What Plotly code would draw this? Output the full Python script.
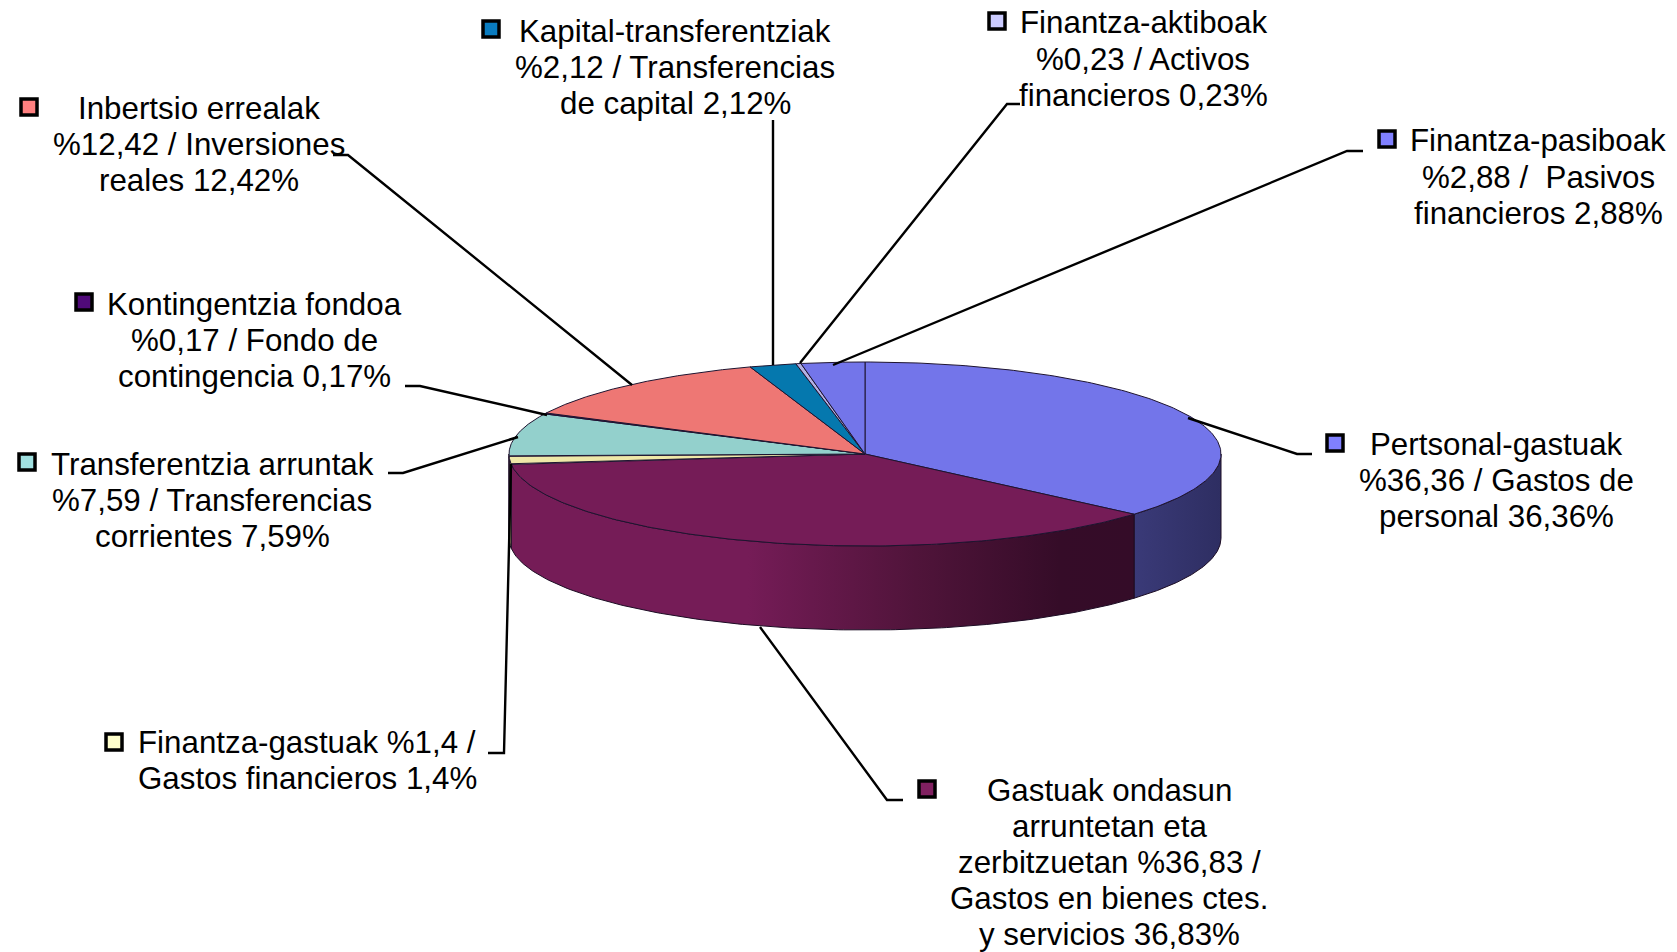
import numpy as np
import plotly.graph_objects as go

# ---- data (clockwise from 12 o'clock) ----
categories = ["Pertsonal-gastuak", "Gastuak ondasun", "Finantza-gastuak", "Transferentzia arruntak",
              "Kontingentzia fondoa", "Inbertsio errealak", "Kapital-transferentziak",
              "Finantza-aktiboak", "Finantza-pasiboak"]
values = [36.36, 36.83, 1.4, 7.59, 0.17, 12.42, 2.12, 0.23, 2.88]
labels = [
    ["Pertsonal-gastuak", "%36,36 / Gastos de", "personal 36,36%"],
    ["Gastuak ondasun", "arruntetan eta", "zerbitzuetan %36,83 /", "Gastos en bienes ctes.", "y servicios 36,83%"],
    ["Finantza-gastuak %1,4 /", "Gastos financieros 1,4%"],
    ["Transferentzia arruntak", "%7,59 / Transferencias", "corrientes 7,59%"],
    ["Kontingentzia fondoa", "%0,17 / Fondo de", "contingencia 0,17%"],
    ["Inbertsio errealak", "%12,42 / Inversiones", "reales 12,42%"],
    ["Kapital-transferentziak", "%2,12 / Transferencias", "de capital 2,12%"],
    ["Finantza-aktiboak", "%0,23 / Activos", "financieros 0,23%"],
    ["Finantza-pasiboak", "%2,88 /  Pasivos", "financieros 2,88%"],
]
top_colors = ["#7375ea", "#751c57", "#efe8a8", "#93d0cc", "#4f0f7f", "#ee7774", "#0578ae", "#b4b2e4", "#7375ea"]
key_colors = ["#8080ff", "#802060", "#ffffcc", "#a0e0e0", "#500a7a", "#ff8080", "#0a7cc0", "#ccccff", "#8080ff"]

# ---- layout constants (pixels in the 1677x952 frame) ----
CX, CY, RX, RY, DEPTH = 865, 454, 356, 92, 84
LINE_STEP = 36.1
label_pos = [(1496, 480.5), (1109, 862.5), (307, 760.5), (212, 500.5), (254, 340.5),
             (199, 144.5), (675, 67.5), (1143, 59), (1538, 177)]
key_pos = [(1335, 443), (927, 789), (114, 742), (27, 462), (84, 302),
           (29, 107), (491, 29), (997, 21), (1387, 139)]
leaders = [
    [(1188, 418), (1297, 454), (1312, 454)],
    [(760, 627), (887, 800), (903, 800)],
    [(511, 464), (504, 753), (488, 753)],
    [(518, 437), (403, 473), (388, 473)],
    [(547, 415), (420, 386), (405, 386)],
    [(632, 385), (348, 155), (333, 155)],
    [(773, 365), (773, 120)],
    [(800, 363), (1007, 104), (1020, 104)],
    [(833, 365), (1347, 151), (1363, 151)],
]
side_styles = {
    0: [[0, "#3a3a78"], [1, "#2e2e62"]],
    1: [[0, "#751c57"], [0.38, "#751c57"], [0.65, "#50143a"], [0.88, "#350c28"], [1, "#340c28"]],
    2: [[0, "#a09a70"], [1, "#a09a70"]],
    3: [[0, "#6a9a98"], [1, "#6a9a98"]],
}

def arc(a, b, n=160):
    t = np.radians(np.linspace(a, b, n))
    return CX + RX * np.sin(t), CY - RY * np.cos(t)

fig = go.Figure()
edges = np.concatenate([[0], np.cumsum(values)]) * 3.6

# side wall
for i, (a, b) in enumerate(zip(edges[:-1], edges[1:])):
    lo, hi = max(a, 90), min(b, 270)
    if hi <= lo:
        continue
    x, y = arc(lo, hi)
    px = np.concatenate([x, x[::-1], x[:1]])
    py = np.concatenate([y, y[::-1] + DEPTH, y[:1]])
    fig.add_trace(go.Scatter(x=px, y=py, mode="lines", fill="toself",
                             line=dict(color="#1c0c24", width=1),
                             fillgradient=dict(type="horizontal", colorscale=side_styles[i]),
                             hoverinfo="skip", showlegend=False))

# top face
for i, (a, b) in enumerate(zip(edges[:-1], edges[1:])):
    x, y = arc(a, b)
    fig.add_trace(go.Scatter(x=np.concatenate([[CX], x, [CX]]), y=np.concatenate([[CY], y, [CY]]),
                             mode="lines", fill="toself", fillcolor=top_colors[i],
                             line=dict(color="#1e1430", width=1),
                             hoverinfo="skip", showlegend=False))

# leader lines
for pts in leaders:
    fig.add_trace(go.Scatter(x=[p[0] for p in pts], y=[p[1] for p in pts], mode="lines",
                             line=dict(color="#000000", width=2.4),
                             hoverinfo="skip", showlegend=False))

# legend keys
fig.add_trace(go.Scatter(x=[p[0] for p in key_pos], y=[p[1] for p in key_pos], mode="markers",
                         marker=dict(symbol="square", size=16, color=key_colors,
                                     line=dict(color="#000000", width=3.5)),
                         hoverinfo="skip", showlegend=False))

# labels, one annotation per line so the line spacing can be held at the reference's step
for lines, (x, y) in zip(labels, label_pos):
    n = len(lines)
    for j, line in enumerate(lines):
        fig.add_annotation(x=x, y=y + (j - (n - 1) / 2) * LINE_STEP, text=line.replace("  ", " \u00a0"),
                           showarrow=False, xanchor="center", yanchor="middle",
                           font=dict(family="Liberation Sans", size=31.3, color="#000000"))

fig.update_layout(width=1677, height=952, margin=dict(l=0, r=0, t=0, b=0),
                  paper_bgcolor="white", plot_bgcolor="white",
                  xaxis=dict(range=[0, 1677], visible=False, fixedrange=True),
                  yaxis=dict(range=[952, 0], visible=False, fixedrange=True))

fig.write_html("out.html", config={"displayModeBar": False},
               post_script="document.body.style.margin='0';document.body.style.overflow='hidden';")
